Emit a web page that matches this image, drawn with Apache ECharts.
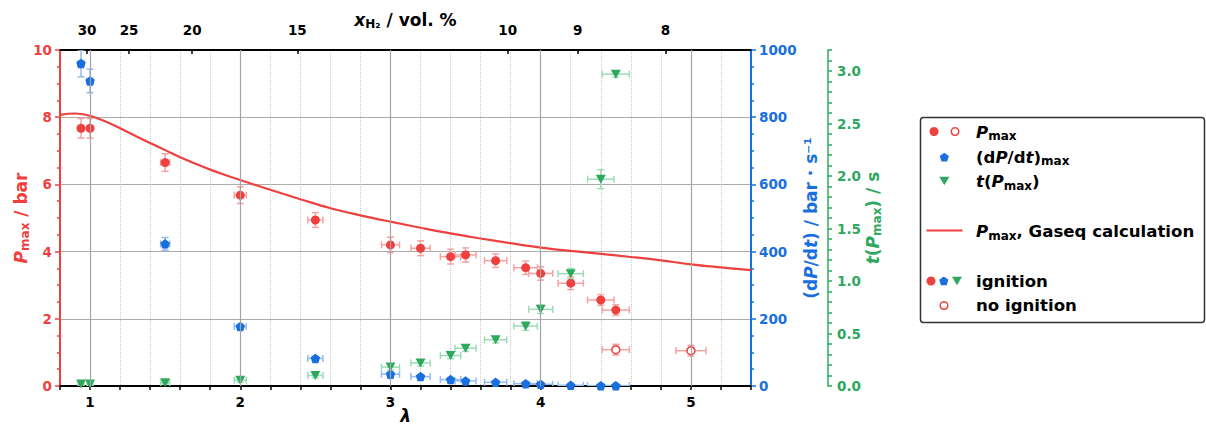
<!DOCTYPE html>
<html><head><meta charset="utf-8">
<script src="https://cdn.jsdelivr.net/npm/echarts@6/dist/echarts.min.js"></script>
<style>html,body{margin:0;padding:0;background:#fff}#c{width:1206px;height:427px}</style>
</head><body><div id="c"></div>
<script>
// ---------- data ----------
const lambdaIgn   = [0.94, 1.0, 1.5, 2.0, 2.5, 3.0, 3.2, 3.4, 3.5, 3.7, 3.9, 4.0, 4.2, 4.4, 4.5];
const lambdaErr   = [0.019, 0.02, 0.03, 0.04, 0.05, 0.06, 0.064, 0.068, 0.07, 0.074, 0.078, 0.08, 0.084, 0.088, 0.09];
const pmaxIgn     = [7.67, 7.67, 6.65, 5.68, 4.94, 4.20, 4.10, 3.85, 3.90, 3.73, 3.52, 3.35, 3.06, 2.56, 2.26];
const pmaxIgnErr  = [0.29, 0.29, 0.26, 0.25, 0.22, 0.23, 0.22, 0.22, 0.21, 0.20, 0.20, 0.20, 0.19, 0.16, 0.16];
const lambdaNoIgn = [4.5, 5.0];
const lambdaNoIgnErr = [0.09, 0.10];
const pmaxNoIgn   = [1.08, 1.05];
const pmaxNoIgnErr= [0.16, 0.16];
const dPdtMax     = [960, 908, 423, 177, 82, 35, 28, 19, 15, 11, 7, 5, 2, 1, 1];
const dPdtErr     = [40, 35, 19, 8, 6, 5, 4, 3, 3, 2, 2, 2, 1, 1, 1];
const tPmax       = [0.02, 0.02, 0.03, 0.055, 0.10, 0.18, 0.22, 0.29, 0.36, 0.44, 0.57, 0.73, 1.07, 1.97, 2.97];
const tPmaxErr    = [0.01, 0.01, 0.01, 0.02, 0.02, 0.03, 0.03, 0.03, 0.03, 0.03, 0.04, 0.04, 0.05, 0.09, 0.03];
const gaseqLambda = [0.8, 0.9, 1.0, 1.1, 1.2, 1.3, 1.4, 1.5, 1.6, 1.7, 1.8, 1.9, 2.0, 2.2, 2.4, 2.6, 2.8, 3.0, 3.2, 3.4, 3.6, 3.8, 4.0, 4.2, 4.4, 4.6, 4.8, 5.0, 5.2, 5.4];
const gaseqPmax   = [8.07, 8.11, 8.04, 7.88, 7.67, 7.45, 7.23, 7.02, 6.81, 6.62, 6.44, 6.28, 6.13, 5.84, 5.56, 5.29, 5.08, 4.89, 4.71, 4.54, 4.39, 4.25, 4.12, 4.02, 3.93, 3.84, 3.74, 3.62, 3.53, 3.45];
const majorLambda = [1, 2, 3, 4, 5];
const topTicksXH2 = [30, 25, 20, 15, 10, 9, 8];   // x_H2 in vol.%
// lambda of a H2/air mixture with given H2 mole fraction (air: 21 % O2)
const airPerH2 = 0.5 / 0.21;
const topTickLambda = topTicksXH2.map(x => (100 / x - 1) / airPerH2);

// ---------- style ----------
const RED = '#EF4040', BLUE = '#1A6FDF', GREEN = '#2EA85F';
const RED_L = '#F5A3A3', BLUE_L = '#92BBF1', GREEN_L = '#9BDDB5';
const FF = 'DejaVu Sans';
const TICK_FS = 13.5, NAME_FS = 17;

function richSet(color, fs) {
  return {
    n: {fontFamily: FF, fontWeight: 'bold', fontSize: fs, color: color, lineHeight: fs + 4},
    i: {fontFamily: FF, fontWeight: 'bold', fontStyle: 'italic', fontSize: fs, color: color, lineHeight: fs + 4},
    s: {fontFamily: FF, fontWeight: 'bold', fontSize: Math.round(fs * 0.72), color: color, verticalAlign: 'bottom', lineHeight: fs * 0.72 + 1}
  };
}

function errSeries(data, color, yIdx) {
  return {
    type: 'custom', xAxisIndex: 0, yAxisIndex: yIdx, z: 3, silent: true, clip: true,
    encode: {x: 0, y: 1},
    data: data,
    renderItem: function (params, api) {
      const x = api.value(0), y = api.value(1), ex = api.value(2), ey = api.value(3);
      const l = api.coord([x - ex, y]), r = api.coord([x + ex, y]);
      const t = api.coord([x, y + ey]), b = api.coord([x, y - ey]);
      const cap = 3.5;
      const st = {stroke: color, lineWidth: 1.5, fill: null};
      const ln = (x1, y1, x2, y2) => ({type: 'line', shape: {x1, y1, x2, y2}, style: st});
      return {type: 'group', children: [
        ln(l[0], l[1], r[0], r[1]),
        ln(l[0], l[1] - cap, l[0], l[1] + cap),
        ln(r[0], r[1] - cap, r[0], r[1] + cap),
        ln(t[0], t[1], b[0], b[1]),
        ln(t[0] - cap, t[1], t[0] + cap, t[1]),
        ln(b[0] - cap, b[1], b[0] + cap, b[1])
      ]};
    }
  };
}

const PENTA = 'path://M0,-1 L0.951,-0.309 L0.588,0.809 L-0.588,0.809 L-0.951,-0.309 Z';

function pentaPts(cx, cy, r) {
  const p = [];
  for (let k = 0; k < 5; k++) {
    const a = -Math.PI / 2 + k * 2 * Math.PI / 5;
    p.push([cx + r * Math.cos(a), cy + r * Math.sin(a)]);
  }
  return p;
}
function triDownPts(cx, cy, r) {
  return [[cx - r, cy - r * 0.75], [cx + r, cy - r * 0.75], [cx, cy + r * 0.95]];
}

const chart = echarts.init(document.getElementById('c'), null, {renderer: 'svg'});

const legendRich = richSet('#000', 16.6);
const LX = 976;
const legendGraphics = [
  {type: 'rect', shape: {x: 920.5, y: 117.5, width: 284, height: 205, r: 3},
   style: {fill: '#fff', stroke: '#333', lineWidth: 1.5}, z: 10},
  // row 1
  {type: 'circle', shape: {cx: 934, cy: 131.5, r: 4.5}, style: {fill: RED}, z: 11},
  {type: 'circle', shape: {cx: 955, cy: 131.5, r: 3.8}, style: {fill: '#fff', stroke: RED, lineWidth: 1.5}, z: 11},
  {type: 'text', x: LX, y: 132, z: 11, style: {text: '{i|P}{s|max}', rich: legendRich, verticalAlign: 'middle', align: 'left'}},
  // row 2
  {type: 'polygon', shape: {points: pentaPts(944.3, 157.5, 4.8)}, style: {fill: BLUE}, z: 11},
  {type: 'text', x: LX, y: 157, z: 11, style: {text: '{n|(d}{i|P}{n|/d}{i|t}{n|)}{s|max}', rich: legendRich, verticalAlign: 'middle', align: 'left'}},
  // row 3
  {type: 'polygon', shape: {points: triDownPts(944.3, 180.5, 5)}, style: {fill: GREEN}, z: 11},
  {type: 'text', x: LX, y: 181.5, z: 11, style: {text: '{i|t}{n|(}{i|P}{s|max}{n|)}', rich: legendRich, verticalAlign: 'middle', align: 'left'}},
  // row 4
  {type: 'line', shape: {x1: 926.5, y1: 230.5, x2: 962.5, y2: 230.5}, style: {stroke: RED, lineWidth: 2}, z: 11},
  {type: 'text', x: LX, y: 231.5, z: 11, style: {text: '{i|P}{s|max}{n|, Gaseq calculation}', rich: legendRich, verticalAlign: 'middle', align: 'left'}},
  // row 5
  {type: 'circle', shape: {cx: 931, cy: 281, r: 4.5}, style: {fill: RED}, z: 11},
  {type: 'polygon', shape: {points: pentaPts(943.8, 281.3, 4.8)}, style: {fill: BLUE}, z: 11},
  {type: 'polygon', shape: {points: triDownPts(957, 280.5, 5)}, style: {fill: GREEN}, z: 11},
  {type: 'text', x: LX, y: 281.5, z: 11, style: {text: '{n|ignition}', rich: legendRich, verticalAlign: 'middle', align: 'left'}},
  // row 6
  {type: 'circle', shape: {cx: 944, cy: 305.5, r: 3.8}, style: {fill: '#fff', stroke: RED, lineWidth: 1.5}, z: 11},
  {type: 'text', x: LX, y: 305.5, z: 11, style: {text: '{n|no ignition}', rich: legendRich, verticalAlign: 'middle', align: 'left'}}
];

const isInt = v => Math.abs(v - Math.round(v)) < 1e-6;

const option = {
  animation: false,
  backgroundColor: '#fff',
  grid: {left: 60, right: 455, top: 50, bottom: 41, containLabel: false, outerBoundsMode: 'none'},
  xAxis: [
    {
      type: 'value', position: 'bottom', min: 0.8, max: 5.4, interval: 0.2,
      axisLine: {show: true, onZero: false, lineStyle: {color: '#000', width: 2}},
      axisTick: {show: true, length: 4, lineStyle: {color: '#000', width: 1.5}},
      axisLabel: {margin: 9, color: '#000', fontFamily: FF, fontWeight: 'bold', fontSize: TICK_FS,
                  formatter: v => isInt(v) ? String(Math.round(v)) : ''},
      splitLine: {show: true, lineStyle: {color: '#c8c8c8', type: 'dotted', width: 1}},
      name: 'λ', nameLocation: 'middle', nameGap: 21, nameMoveOverlap: false,
      nameTextStyle: {fontFamily: FF, fontWeight: 'bold', fontStyle: 'italic', fontSize: NAME_FS, color: '#000', lineHeight: 17}
    },
    {
      type: 'value', position: 'top', min: 0.8, max: 5.4,
      axisLine: {show: true, onZero: false, lineStyle: {color: '#000', width: 2}},
      axisTick: {show: true, inside: true, length: 4, customValues: topTickLambda, lineStyle: {color: '#000', width: 1.5}},
      axisLabel: {show: true, customValues: topTickLambda, margin: 13, color: '#000', fontFamily: FF, fontWeight: 'bold', fontSize: TICK_FS,
                  formatter: v => String(Math.round(100 / (1 + airPerH2 * v)))},
      splitLine: {show: false},
      name: '{i|x}{s|H₂}{n| / vol. %}', nameLocation: 'middle', nameGap: 20, nameMoveOverlap: false,
      nameTextStyle: {rich: richSet('#000', NAME_FS)}
    }
  ],
  yAxis: [
    {
      type: 'value', position: 'left', min: 0, max: 10, interval: 2,
      axisLine: {show: true, onZero: false, lineStyle: {color: RED, width: 2}},
      axisTick: {show: true, length: 5, lineStyle: {color: RED, width: 1.5}},
      minorTick: {show: true, splitNumber: 4, length: 3, lineStyle: {color: RED, width: 1.5}},
      axisLabel: {margin: 8, color: RED, fontFamily: FF, fontWeight: 'bold', fontSize: TICK_FS},
      splitLine: {show: true, lineStyle: {color: '#ababab', width: 1.2}},
      name: '{i|P}{s|max}{n| / bar}', nameLocation: 'middle', nameGap: 29, nameRotate: 90, nameMoveOverlap: false,
      nameTextStyle: {rich: richSet(RED, NAME_FS)}
    },
    {
      type: 'value', position: 'right', min: 0, max: 1000, interval: 200,
      axisLine: {show: true, onZero: false, lineStyle: {color: BLUE, width: 2}},
      axisTick: {show: true, length: 5, lineStyle: {color: BLUE, width: 1.5}},
      minorTick: {show: true, splitNumber: 4, length: 3, lineStyle: {color: BLUE, width: 1.5}},
      axisLabel: {margin: 8, color: BLUE, fontFamily: FF, fontWeight: 'bold', fontSize: TICK_FS,
                  formatter: v => String(Math.round(v))},
      splitLine: {show: false},
      name: '{n|(d}{i|P}{n|/d}{i|t}{n|) / bar · s⁻¹}', nameLocation: 'middle', nameGap: 49, nameRotate: 90, nameMoveOverlap: false,
      nameTextStyle: {rich: richSet(BLUE, NAME_FS)}
    },
    {
      type: 'value', position: 'right', offset: 77, min: 0, max: 3.2, interval: 0.1,
      axisLine: {show: true, onZero: false, lineStyle: {color: GREEN, width: 1.5}},
      axisTick: {show: true, length: 4, lineStyle: {color: GREEN, width: 1.5}},
      axisLabel: {margin: 9, color: GREEN, fontFamily: FF, fontWeight: 'bold', fontSize: TICK_FS,
                  formatter: v => isInt(v * 2) ? v.toFixed(1) : ''},
      splitLine: {show: false},
      name: '{i|t}{n|(}{i|P}{s|max}{n|) / s}', nameLocation: 'middle', nameGap: 34, nameRotate: 90, nameMoveOverlap: false,
      nameTextStyle: {rich: richSet(GREEN, NAME_FS)}
    }
  ],
  graphic: legendGraphics,
  series: [
    {
      type: 'scatter', xAxisIndex: 0, yAxisIndex: 0, data: [], z: 1, silent: true,
      markLine: {silent: true, symbol: 'none', label: {show: false}, animation: false,
                 lineStyle: {color: '#a3a3a3', type: 'solid', width: 1.2},
                 data: majorLambda.map(v => ({xAxis: v}))}
    },
    {
      type: 'line', xAxisIndex: 0, yAxisIndex: 0, z: 2, smooth: 0.4, showSymbol: false, symbol: 'none',
      lineStyle: {color: RED, width: 2.2}, itemStyle: {color: RED},
      data: gaseqLambda.map((l, i) => [l, gaseqPmax[i]])
    },
    errSeries(lambdaIgn.map((l, i) => [l, pmaxIgn[i], lambdaErr[i], pmaxIgnErr[i]]), RED_L, 0),
    errSeries(lambdaNoIgn.map((l, i) => [l, pmaxNoIgn[i], lambdaNoIgnErr[i], pmaxNoIgnErr[i]]), RED_L, 0),
    errSeries(lambdaIgn.map((l, i) => [l, dPdtMax[i], lambdaErr[i], dPdtErr[i]]), BLUE_L, 1),
    errSeries(lambdaIgn.map((l, i) => [l, tPmax[i], lambdaErr[i], tPmaxErr[i]]), GREEN_L, 2),
    {
      type: 'scatter', xAxisIndex: 0, yAxisIndex: 0, z: 4, symbol: 'circle', symbolSize: 9,
      itemStyle: {color: RED, opacity: 1},
      data: lambdaIgn.map((l, i) => [l, pmaxIgn[i]])
    },
    {
      type: 'scatter', xAxisIndex: 0, yAxisIndex: 0, z: 4, symbol: 'circle', symbolSize: 8,
      itemStyle: {color: '#fff', borderColor: RED, borderWidth: 1.5, opacity: 1},
      data: lambdaNoIgn.map((l, i) => [l, pmaxNoIgn[i]])
    },
    {
      type: 'scatter', xAxisIndex: 0, yAxisIndex: 1, z: 4, symbol: PENTA, symbolSize: 9.5,
      itemStyle: {color: BLUE, opacity: 1},
      data: lambdaIgn.map((l, i) => [l, dPdtMax[i]])
    },
    {
      type: 'scatter', xAxisIndex: 0, yAxisIndex: 2, z: 4, symbol: 'triangle', symbolRotate: 180, symbolSize: [10, 9],
      itemStyle: {color: GREEN, opacity: 1},
      data: lambdaIgn.map((l, i) => [l, tPmax[i]])
    }
  ]
};
chart.setOption(option);
</script>
</body></html>
